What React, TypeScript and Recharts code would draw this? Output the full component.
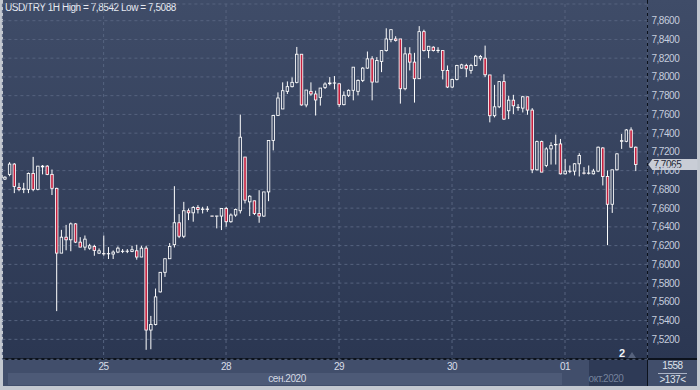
import React from "react";
import {
  ComposedChart,
  Bar,
  XAxis,
  YAxis,
  CartesianGrid,
  ReferenceLine,
} from "recharts";

// hourly candles, oldest first; two empty slots are left at the right edge
const SLOTS = 137;

const OPEN = [
  7.691, 7.696, 7.707, 7.682, 7.68, 7.68, 7.697, 7.68, 7.704, 7.7048,
  7.696, 7.6811, 7.612, 7.629, 7.6262, 7.6432, 7.6237, 7.6184, 7.6173, 7.6191,
  7.612, 7.6115, 7.6112, 7.611, 7.6131, 7.6137, 7.6139, 7.6138, 7.6145, 7.6078,
  7.6173, 7.5299, 7.5359, 7.5706, 7.5915, 7.606, 7.621, 7.6444, 7.63, 7.6572,
  7.655, 7.6607, 7.6586, 7.659, 7.6516, 7.6514, 7.6515, 7.6596, 7.6455, 7.6526,
  7.6572, 7.7145, 7.6667, 7.6678, 7.6543, 7.6515, 7.6773, 7.7322, 7.7588, 7.7658,
  7.7846, 7.7896, 7.7942, 7.8242, 7.7701, 7.7846, 7.7818, 7.7782, 7.7888, 7.7928,
  7.7934, 7.7927, 7.7704, 7.7804, 7.7857, 7.7846, 7.7963, 7.8094, 7.8193, 7.7945,
  7.8165, 7.8281, 7.8398, 7.8405, 7.8405, 7.7874, 7.8246, 7.8158, 7.7981, 7.8483,
  7.8281, 7.8317, 7.8281, 7.8281, 7.8069, 7.7892, 7.7973, 7.8094, 7.8122, 7.8069,
  7.8122, 7.82, 7.82, 7.8021, 7.7586, 7.7681, 7.795, 7.7639, 7.7752, 7.7676,
  7.7667, 7.7788, 7.7646, 7.7009, 7.731, 7.7055, 7.7232, 7.7276, 7.7285, 7.6966,
  7.6995, 7.6995, 7.7073, 7.6975, 7.6972, 7.6966, 7.6995, 7.7242, 7.6938, 7.6641,
  7.7009, 7.7313, 7.7313, 7.7434, 7.725,
];

const HIGH = [
  7.694, 7.709, 7.708, 7.687, 7.687, 7.698, 7.7147, 7.705, 7.706, 7.7058,
  7.7012, 7.6818, 7.6368, 7.6421, 7.6446, 7.6439, 7.629, 7.6308, 7.6219, 7.6209,
  7.617, 7.6308, 7.6184, 7.6149, 7.6191, 7.6163, 7.6163, 7.6198, 7.6209, 7.6198,
  7.6198, 7.545, 7.5742, 7.5915, 7.606, 7.6227, 7.6834, 7.6536, 7.6667, 7.6596,
  7.6621, 7.6632, 7.6614, 7.6621, 7.6518, 7.6518, 7.6596, 7.6614, 7.6543, 7.6596,
  7.7598, 7.7145, 7.6738, 7.6678, 7.6791, 7.6773, 7.7322, 7.7588, 7.7835, 7.7942,
  7.7952, 7.7995, 7.832, 7.8242, 7.786, 7.7942, 7.7853, 7.7881, 7.7942, 7.7998,
  7.8009, 7.7927, 7.7846, 7.7867, 7.8104, 7.7973, 7.8104, 7.8271, 7.8221, 7.8211,
  7.8281, 7.8519, 7.8504, 7.8434, 7.8405, 7.8317, 7.8317, 7.8257, 7.8542, 7.8504,
  7.8327, 7.8327, 7.8317, 7.8281, 7.8122, 7.7981, 7.8129, 7.814, 7.814, 7.814,
  7.8235, 7.8235, 7.8334, 7.8021, 7.7915, 7.795, 7.8028, 7.7798, 7.7809, 7.771,
  7.7798, 7.7788, 7.7667, 7.732, 7.732, 7.725, 7.7303, 7.7384, 7.7338, 7.7126,
  7.7055, 7.708, 7.7186, 7.7037, 7.7055, 7.7019, 7.7257, 7.725, 7.7002, 7.7009,
  7.7186, 7.7391, 7.7444, 7.7462, 7.7257,
];

const LOW = [
  7.69, 7.694, 7.676, 7.678, 7.676, 7.676, 7.678, 7.679, 7.696, 7.6952,
  7.674, 7.5501, 7.612, 7.615, 7.614, 7.6227, 7.6184, 7.615, 7.6156, 7.6092,
  7.611, 7.6092, 7.6057, 7.6057, 7.612, 7.612, 7.612, 7.613, 7.605, 7.6078,
  7.5088, 7.5094, 7.5349, 7.57, 7.5866, 7.606, 7.618, 7.628, 7.628, 7.6472,
  7.6455, 7.6543, 7.6543, 7.6561, 7.6512, 7.6384, 7.6366, 7.6402, 7.6444, 7.6508,
  7.6543, 7.665, 7.6515, 7.6526, 7.6444, 7.6508, 7.6674, 7.7216, 7.7588, 7.7658,
  7.7818, 7.7888, 7.7931, 7.7694, 7.7676, 7.78, 7.7588, 7.7694, 7.7871, 7.791,
  7.7867, 7.768, 7.7697, 7.7786, 7.775, 7.7804, 7.7945, 7.8087, 7.775, 7.7945,
  7.8051, 7.827, 7.837, 7.8377, 7.7715, 7.7857, 7.8069, 7.7726, 7.7981, 7.8271,
  7.82, 7.8271, 7.8257, 7.7973, 7.7881, 7.7881, 7.7963, 7.8087, 7.7998, 7.8034,
  7.8115, 7.8175, 7.7998, 7.7515, 7.7568, 7.7667, 7.754, 7.755, 7.7604, 7.7639,
  7.7621, 7.7596, 7.6973, 7.7002, 7.6984, 7.7037, 7.7065, 7.7065, 7.6959, 7.6959,
  7.6973, 7.6949, 7.6938, 7.6959, 7.6959, 7.6959, 7.6984, 7.6842, 7.6205, 7.6549,
  7.7002, 7.7232, 7.7303, 7.7242, 7.6995,
];

const CLOSE = [
  7.693, 7.707, 7.683, 7.68, 7.6805, 7.697, 7.68, 7.7048, 7.7048, 7.6959,
  7.6811, 7.612, 7.629, 7.6262, 7.6432, 7.6237, 7.6184, 7.6269, 7.6198, 7.6149,
  7.6145, 7.6112, 7.6115, 7.6131, 7.6173, 7.614, 7.6141, 7.6156, 7.6078, 7.6173,
  7.5299, 7.5359, 7.5653, 7.5915, 7.606, 7.6191, 7.6444, 7.63, 7.6572, 7.655,
  7.6607, 7.6586, 7.659, 7.6586, 7.6514, 7.6516, 7.6596, 7.6455, 7.6526, 7.6586,
  7.7357, 7.6685, 7.6727, 7.6543, 7.6515, 7.6773, 7.7322, 7.7588, 7.7775, 7.7853,
  7.7896, 7.7942, 7.8242, 7.7701, 7.786, 7.7818, 7.7754, 7.7881, 7.7924, 7.7935,
  7.7936, 7.7704, 7.7804, 7.7857, 7.8104, 7.7963, 7.8094, 7.8193, 7.7945, 7.8175,
  7.8281, 7.8405, 7.8504, 7.8388, 7.7874, 7.8246, 7.8158, 7.7981, 7.8483, 7.8281,
  7.8327, 7.8281, 7.8284, 7.8069, 7.7892, 7.7973, 7.8122, 7.8129, 7.8087, 7.8122,
  7.8221, 7.8218, 7.8023, 7.7586, 7.7681, 7.795, 7.755, 7.7752, 7.7692, 7.7672,
  7.7788, 7.7646, 7.7009, 7.731, 7.6984, 7.7232, 7.7267, 7.728, 7.6966, 7.6995,
  7.6993, 7.7073, 7.7161, 7.6972, 7.6974, 7.6995, 7.725, 7.6938, 7.6641, 7.7009,
  7.7179, 7.732, 7.7434, 7.725, 7.7065,
];

const DAY_TICKS = [21, 47, 71, 95, 119];
const DAY_LABELS = ["25", "28", "29", "30", "01"];
const PRICE_TICKS = [
  7.52, 7.54, 7.56, 7.58, 7.6, 7.62, 7.64, 7.66, 7.68, 7.7, 7.72, 7.74, 7.76,
  7.78, 7.8, 7.82, 7.84, 7.86,
];
const MONTHS = ["сен.2020", "окт.2020"];

const FONT = '"Liberation Sans", Arial, sans-serif';
const BG_TOP = "#3f4c68";
const BG_BOTTOM = "#2b3752";
const BEAR = "#c41f3e";

const fmt = (v: number) => v.toFixed(4).replace(".", ",");

const data = Array.from({ length: SLOTS }, (_, i) =>
  i < OPEN.length
    ? {
        idx: i,
        open: OPEN[i],
        high: HIGH[i],
        low: LOW[i],
        close: CLOSE[i],
        range: [LOW[i], HIGH[i]],
      }
    : { idx: i }
);

function Candle(props: any) {
  const { x, y, width, height, payload } = props;
  if (!payload || payload.high == null) return null;
  const { open, close, high, low } = payload;
  const top = Math.min(y, y + height);
  const h = Math.abs(height);
  const cx = x + width / 2;
  const k = high > low ? h / (high - low) : 0;
  const yOf = (v: number) => top + (high - v) * k;
  const bodyTop = yOf(Math.max(open, close));
  const bodyBot = yOf(Math.min(open, close));
  const bull = close >= open;
  return (
    <g>
      <line x1={cx} x2={cx} y1={top} y2={top + h} stroke="#fff" strokeWidth={1} />
      <rect
        x={cx - 1.25}
        y={bodyTop}
        width={2.5}
        height={Math.max(bodyBot - bodyTop, 0.2)}
        fill={bull ? "url(#candleBg)" : BEAR}
        stroke="#fff"
        strokeWidth={0.85}
      />
    </g>
  );
}

function PriceTag(props: any) {
  const vb = props.viewBox;
  if (!vb) return null;
  const x = vb.x + vb.width + 1;
  const y = vb.y;
  return (
    <g>
      <polygon
        points={`${x},${y} ${x + 4},${y - 5.5} ${x + 49},${y - 5.5} ${x + 49},${y + 5.5} ${x + 4},${y + 5.5}`}
        fill="#c9cdd6"
      />
      <text
        x={x + 5}
        y={y + 3.6}
        fontSize={10}
        fill="#1d2535"
        letterSpacing={-0.45}
        fontFamily={FONT}
      >
        {fmt(CLOSE[CLOSE.length - 1])}
      </text>
    </g>
  );
}

export default function App() {
  const hi = Math.max(...HIGH);
  const lo = Math.min(...LOW);
  const abs = (s: React.CSSProperties): React.CSSProperties => ({
    position: "absolute",
    ...s,
  });
  const txt: React.CSSProperties = {
    position: "absolute",
    fontFamily: FONT,
    fontSize: 10,
    lineHeight: "12px",
    letterSpacing: -0.45,
    whiteSpace: "nowrap",
  };

  return (
    <div
      style={{
        position: "fixed",
        left: 0,
        top: 0,
        width: 700,
        height: 390,
        background: "#c3c8d0",
        overflow: "hidden",
      }}
    >
      <div
        style={abs({
          left: 3,
          top: 0,
          width: 694,
          height: 359,
          background: `linear-gradient(${BG_TOP}, ${BG_BOTTOM})`,
        })}
      />
      <div style={abs({ left: 3, top: 360, width: 694, height: 26, background: "#414e6b" })} />
      <div style={abs({ left: 8, top: 373, width: 554, height: 12, background: "#4d5a77" })} />
      <div style={abs({ left: 589, top: 360, width: 58, height: 26, background: "#2e3a56" })} />
      <div style={abs({ left: 3, top: 358, width: 694, height: 2, background: "#0c121c" })} />
      <div style={abs({ left: 647, top: 0, width: 1.4, height: 386, background: "#0c121c" })} />

      <div style={{ ...txt, left: 5, top: 2, color: "#e6eaf2" }}>
        USD/TRY 1H High = {fmt(hi)} Low = {fmt(lo)}
      </div>
      <div style={{ ...txt, left: 247, top: 373, width: 80, textAlign: "center", color: "#d4d9e4" }}>
        {MONTHS[0]}
      </div>
      <div style={{ ...txt, left: 566, top: 373, width: 80, textAlign: "center", color: "#75829c" }}>
        {MONTHS[1]}
      </div>
      <div style={{ ...txt, left: 619, top: 347, fontSize: 11, fontWeight: "bold", color: "#eef1f6" }}>
        2
      </div>
      <div
        style={abs({
          left: 628,
          top: 352,
          width: 0,
          height: 0,
          borderLeft: "4px solid transparent",
          borderRight: "4px solid transparent",
          borderBottom: "6px solid #56627c",
        })}
      />
      <div style={{ ...txt, left: 648, top: 360, width: 49, textAlign: "center", color: "#dfe3ec" }}>
        1558
      </div>
      <div style={abs({ left: 658, top: 373, width: 29, height: 1, background: "#aab3c6" })} />
      <div style={{ ...txt, left: 648, top: 374, width: 49, textAlign: "center", color: "#dfe3ec" }}>
        {">" + SLOTS + "<"}
      </div>

      <div style={abs({ left: 0, top: 0 })}>
        <ComposedChart
          width={700}
          height={390}
          data={data}
          barCategoryGap={0}
          margin={{ top: 4, right: 2.6, left: 2.4, bottom: 4.7 }}
          style={{ fontFamily: FONT }}
        >
          <defs>
            <linearGradient id="candleBg" gradientUnits="userSpaceOnUse" x1="0" y1="0" x2="0" y2="359">
              <stop offset="0" stopColor={BG_TOP} />
              <stop offset="1" stopColor={BG_BOTTOM} />
            </linearGradient>
          </defs>
          <CartesianGrid stroke="#56637f" strokeDasharray="3 3" />
          <XAxis
            dataKey="idx"
            type="category"
            ticks={DAY_TICKS}
            interval={0}
            tickFormatter={(v) => DAY_LABELS[DAY_TICKS.indexOf(v)] ?? ""}
            tickLine={false}
            axisLine={false}
            tickSize={0}
            tickMargin={4}
            height={26}
            tick={{ fill: "#d8dde8", fontSize: 10, letterSpacing: -0.45 }}
          />
          <YAxis
            type="number"
            orientation="right"
            domain={[7.4987, 7.8778]}
            allowDataOverflow
            ticks={PRICE_TICKS}
            interval={0}
            tickFormatter={fmt}
            tickLine={false}
            axisLine={false}
            tickSize={2}
            tickMargin={2}
            width={50}
            tick={{ fill: "#c6cddd", fontSize: 10, letterSpacing: -0.45 }}
          />
          <Bar dataKey="range" shape={Candle} isAnimationActive={false} />
          <ReferenceLine
            y={CLOSE[CLOSE.length - 1]}
            stroke="none"
            label={(p: any) => <PriceTag {...p} />}
          />
        </ComposedChart>
      </div>
    </div>
  );
}
